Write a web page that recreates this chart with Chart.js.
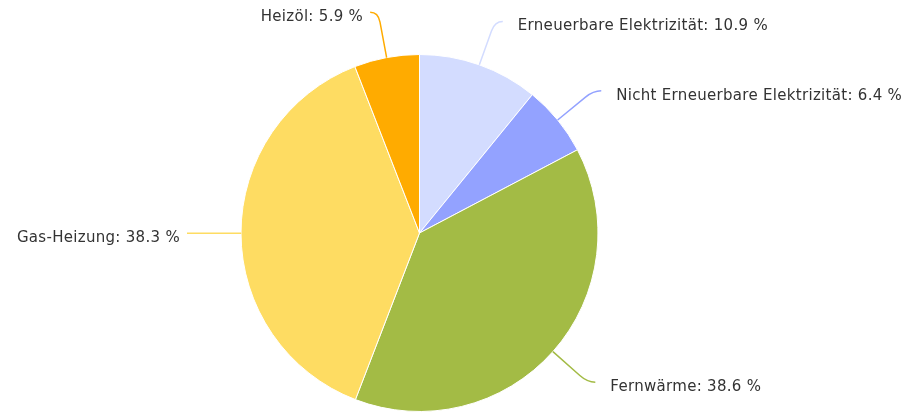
<!DOCTYPE html>
<html>
<head>
<meta charset="utf-8">
<script src="https://cdn.jsdelivr.net/npm/chart.js@4.4.1/dist/chart.umd.min.js"></script>
<style>
    body { margin: 0; background: #fff; }
    #wrap { width: 907px; height: 414px; }
</style>
</head>
<body>
<div id="wrap"><canvas id="heatChart" width="907" height="414"></canvas></div>
<script>
var labels = ['Erneuerbare Elektrizität', 'Nicht Erneuerbare Elektrizität', 'Fernwärme', 'Gas-Heizung', 'Heizöl'];
var shares = [10.9, 6.4, 38.6, 38.3, 5.9];
var colors = ['#d3dcff', '#93a2ff', '#a3bb45', '#fedc62', '#ffab00'];

// outside labels with soft connectors, highcharts style
var outsideLabels = {
    id: 'outsideLabels',
    afterDatasetsDraw: function(chart) {
        var ctx = chart.ctx;
        var meta = chart.getDatasetMeta(0);
        ctx.save();
        ctx.font = '15px "DejaVu Sans"';
        if ('letterSpacing' in ctx) ctx.letterSpacing = '0.3px';
        ctx.fillStyle = '#333333';
        ctx.lineWidth = 1.5;
        meta.data.forEach(function(arc, i) {
            var p = arc.getProps(['x', 'y', 'startAngle', 'endAngle', 'outerRadius'], true);
            var mid = (p.startAngle + p.endAngle) / 2;
            var dx = Math.cos(mid), dy = Math.sin(mid);
            var side = dx < -0.01 ? -1 : 1;
            var ax = p.x + p.outerRadius * dx, ay = p.y + p.outerRadius * dy;
            var bx = p.x + (p.outerRadius + 46) * dx, by = p.y + (p.outerRadius + 46) * dy;
            var cx = bx + side * 8, cy = by;
            var mx = p.x + (p.outerRadius + 36) * dx, my = p.y + (p.outerRadius + 36) * dy;
            ctx.strokeStyle = colors[i];
            ctx.beginPath();
            ctx.moveTo(ax, ay);
            ctx.lineTo(mx, my);
            ctx.quadraticCurveTo(bx, by, cx, cy);
            ctx.stroke();
            var text = labels[i] + ': ' + shares[i].toFixed(1) + ' %';
            ctx.textBaseline = 'middle';
            if (side < 0) {
                ctx.textAlign = 'right';
                ctx.fillText(text, cx - 7, cy + 5);
            } else {
                ctx.textAlign = 'left';
                ctx.fillText(text, cx + 15, cy + 5);
            }
        });
        ctx.restore();
    }
};

var chart = new Chart(document.getElementById('heatChart'), {
    type: 'pie',
    data: {
        labels: labels,
        datasets: [{
            data: shares,
            backgroundColor: colors,
            borderColor: '#ffffff',
            borderWidth: 1
        }]
    },
    options: {
        responsive: false,
        animation: false,
        layout: { padding: { left: 0, right: 68, top: 54, bottom: 2 } },
        plugins: {
            legend: { display: false },
            tooltip: { enabled: false }
        }
    },
    plugins: [outsideLabels]
});
</script>
</body>
</html>
